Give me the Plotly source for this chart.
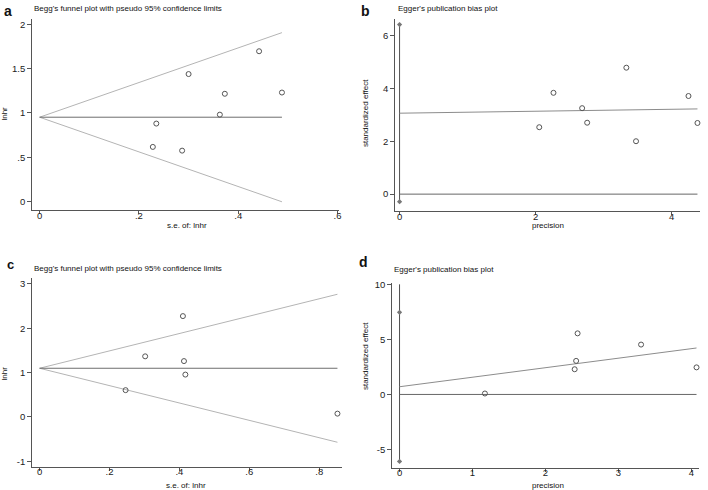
import plotly.graph_objects as go

W, H = 708, 490

# ---------------- data ----------------
# Panel a: Begg's funnel plot
a_se = [0.228, 0.235, 0.287, 0.300, 0.363, 0.373, 0.442, 0.488]
a_lnhr = [0.616, 0.880, 0.574, 1.440, 0.981, 1.217, 1.698, 1.231]
a_theta = 0.952

# Panel b: Egger's plot
b_precision = [2.053, 2.262, 2.683, 2.757, 3.333, 3.475, 4.246, 4.378]
b_snd = [2.53, 3.83, 3.25, 2.70, 4.78, 2.00, 3.71, 2.69]
b_intercept = 3.06
b_slope = 0.037
b_ci = [-0.285, 6.41]
b_vline = [-0.285, 6.41]

# Panel c: Begg's funnel plot
c_se = [0.246, 0.302, 0.410, 0.413, 0.417, 0.852]
c_lnhr = [0.604, 1.367, 2.275, 1.260, 0.955, 0.074]
c_theta = 1.098

# Panel d: Egger's plot
d_precision = [1.17, 2.40, 2.42, 2.44, 3.31, 4.07]
d_snd = [0.087, 2.29, 3.05, 5.55, 4.53, 2.46]
d_intercept = 0.70
d_slope = 0.865
d_ci = [-6.08, 7.46]
d_vline = [-6.08, 10]

# tick labels
a_xticks = [0, 0.2, 0.4, 0.6]; a_xtext = ["0", ".2", ".4", ".6"]
a_yticks = [0, 0.5, 1, 1.5, 2]; a_ytext = ["0", ".5", "1", "1.5", "2"]
b_xticks = [0, 2, 4]; b_xtext = ["0", "2", "4"]
b_yticks = [0, 2, 4, 6]; b_ytext = ["0", "2", "4", "6"]
c_xticks = [0, 0.2, 0.4, 0.6, 0.8]; c_xtext = ["0", ".2", ".4", ".6", ".8"]
c_yticks = [-1, 0, 1, 2, 3]; c_ytext = ["-1", "0", "1", "2", "3"]
d_xticks = [0, 1, 2, 3, 4]; d_xtext = ["0", "1", "2", "3", "4"]
d_yticks = [-5, 0, 5, 10]; d_ytext = ["-5", "0", "5", "10"]

FONT = "Arial, Liberation Sans, sans-serif"
PT_COL = "#555555"
FUN_COL = "#b4b4b4"
MID_COL = "#6e6e6e"
AX_COL = "#555555"

fig = go.Figure()


def funnel(se, lnhr, theta, xa, ya):
    smax = max(se)
    fig.add_trace(go.Scatter(x=[0, smax], y=[theta, theta + 1.96 * smax],
                             mode="lines", line=dict(color=FUN_COL, width=1),
                             xaxis=xa, yaxis=ya, showlegend=False, hoverinfo="skip"))
    fig.add_trace(go.Scatter(x=[0, smax], y=[theta, theta - 1.96 * smax],
                             mode="lines", line=dict(color=FUN_COL, width=1),
                             xaxis=xa, yaxis=ya, showlegend=False, hoverinfo="skip"))
    fig.add_trace(go.Scatter(x=[0, smax], y=[theta, theta],
                             mode="lines", line=dict(color=MID_COL, width=1),
                             xaxis=xa, yaxis=ya, showlegend=False, hoverinfo="skip"))
    fig.add_trace(go.Scatter(x=se, y=lnhr, mode="markers",
                             marker=dict(symbol="circle-open", size=5, color=PT_COL,
                                         line=dict(width=1, color=PT_COL)),
                             xaxis=xa, yaxis=ya, showlegend=False))


def egger(prec, snd, b0, b1, ci, vline, xa, ya):
    pmax = max(prec)
    fig.add_trace(go.Scatter(x=[0, 0], y=vline, mode="lines",
                             line=dict(color="#505050", width=1),
                             xaxis=xa, yaxis=ya, showlegend=False, hoverinfo="skip"))
    fig.add_trace(go.Scatter(x=[0, 0], y=ci, mode="markers",
                             marker=dict(symbol="diamond", size=4, color="#777777"),
                             xaxis=xa, yaxis=ya, showlegend=False))
    fig.add_trace(go.Scatter(x=[0, pmax], y=[0, 0], mode="lines",
                             line=dict(color="#666666", width=1),
                             xaxis=xa, yaxis=ya, showlegend=False, hoverinfo="skip"))
    fig.add_trace(go.Scatter(x=[0, pmax], y=[b0, b0 + b1 * pmax], mode="lines",
                             line=dict(color="#8c8c8c", width=1),
                             xaxis=xa, yaxis=ya, showlegend=False, hoverinfo="skip"))
    fig.add_trace(go.Scatter(x=prec, y=snd, mode="markers",
                             marker=dict(symbol="circle-open", size=5, color=PT_COL,
                                         line=dict(width=1, color=PT_COL)),
                             xaxis=xa, yaxis=ya, showlegend=False, cliponaxis=False))


funnel(a_se, a_lnhr, a_theta, "x", "y")
egger(b_precision, b_snd, b_intercept, b_slope, b_ci, b_vline, "x2", "y2")
funnel(c_se, c_lnhr, c_theta, "x3", "y3")
egger(d_precision, d_snd, d_intercept, d_slope, d_ci, d_vline, "x4", "y4")


def px_dom(p0, p1, total, flip=False):
    if flip:
        return [1 - p1 / total, 1 - p0 / total]
    return [p0 / total, p1 / total]


def xaxis(dom, rng, tv, tt, anchor):
    return dict(domain=dom, range=rng, tickvals=tv, ticktext=tt, anchor=anchor,
                showline=True, linecolor=AX_COL, linewidth=1, ticks="outside",
                ticklen=3, tickcolor=AX_COL, showgrid=False, zeroline=False,
                ticklabelstandoff=-7,
                tickfont=dict(family=FONT, size=9.5, color="#222"), fixedrange=True)


def yaxis(dom, rng, tv, tt, anchor):
    return dict(domain=dom, range=rng, tickvals=tv, ticktext=tt, anchor=anchor,
                showline=True, linecolor=AX_COL, linewidth=1, ticks="outside",
                ticklen=4, tickcolor=AX_COL, showgrid=False, zeroline=False,
                tickfont=dict(family=FONT, size=9.5, color="#222"), fixedrange=True)


fig.update_layout(
    width=W, height=H, margin=dict(l=0, r=0, t=0, b=0),
    paper_bgcolor="white", plot_bgcolor="white",
    font=dict(family=FONT, color="#222"),
    xaxis=xaxis(px_dom(32.3, 340, W), [-0.0149, 0.603], a_xticks, a_xtext, "y"),
    yaxis=yaxis(px_dom(15, 208, H, True), [-0.1008, 2.064], a_yticks, a_ytext, "x"),
    xaxis2=xaxis(px_dom(396.3, 702.3, W), [-0.0645, 4.42], b_xticks, b_xtext, "y2"),
    yaxis2=yaxis(px_dom(15, 209, H, True), [-0.649, 6.626], b_yticks, b_ytext, "x2"),
    xaxis3=xaxis(px_dom(32.3, 343.3, W), [-0.0211, 0.866], c_xticks, c_xtext, "y3"),
    yaxis3=yaxis(px_dom(276.7, 466.7, H, True), [-1.128, 3.125], c_yticks, c_ytext, "x3"),
    xaxis4=xaxis(px_dom(393.3, 700.7, W), [-0.1007, 4.10], d_xticks, d_xtext, "y4"),
    yaxis4=yaxis(px_dom(281, 467.7, H, True), [-6.67, 10.15], d_yticks, d_ytext, "x4"),
)


def ann(text, xpx, ypx, size, xanchor="left", bold=False, angle=0):
    fig.add_annotation(text=("<b>%s</b>" % text) if bold else text,
                       x=xpx / W, y=1 - ypx / H, xref="paper", yref="paper",
                       xanchor=xanchor, yanchor="middle", showarrow=False,
                       textangle=angle,
                       font=dict(family=FONT, size=size, color="#111"))


# panel letters
ann("a", 2, 7, 14, bold=True)
ann("b", 360, 7, 14, bold=True)
ann("c", 5, 263, 13, bold=True)
ann("d", 358, 260, 14, bold=True)

# panel titles
ann("Begg's funnel plot with pseudo 95% confidence limits", 32, 5, 8)
ann("Egger's publication bias plot", 397, 5, 8)
ann("Begg's funnel plot with pseudo 95% confidence limits", 32, 267, 8)
ann("Egger's publication bias plot", 393, 268, 8)

# axis titles
ann("s.e. of: lnhr", 188, 223, 8, xanchor="center")
ann("lnhr", 4.5, 110, 8, xanchor="center", angle=-90)
ann("precision", 550, 223, 8, xanchor="center")
ann("standardized effect", 366, 110, 8, xanchor="center", angle=-90)
ann("s.e. of: lnhr", 187, 485, 8, xanchor="center")
ann("lnhr", 4.5, 372, 8, xanchor="center", angle=-90)
ann("precision", 550, 485, 8, xanchor="center")
ann("standardized effect", 366, 355, 8, xanchor="center", angle=-90)

fig.write_html("out.html", config={"displayModeBar": False},
               post_script="document.body.style.margin='0';document.body.style.overflow='hidden';")
